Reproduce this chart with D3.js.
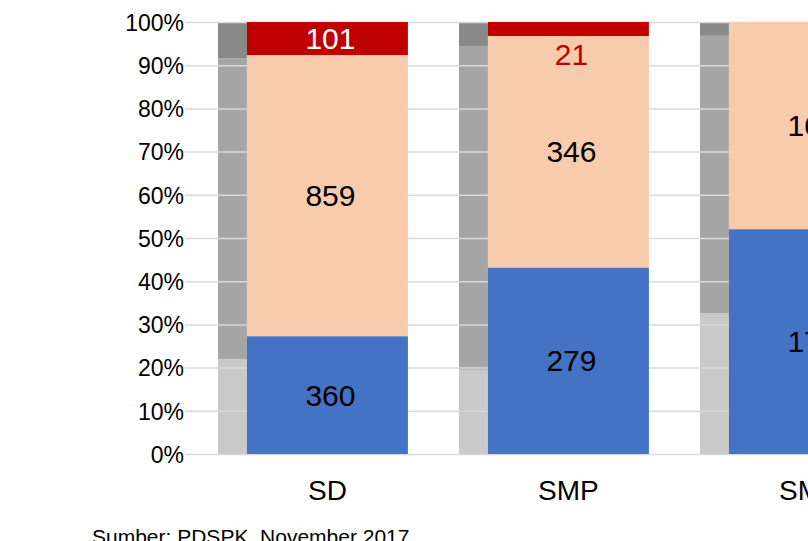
<!DOCTYPE html>
<html>
<head>
<meta charset="utf-8">
<script src="https://cdn.jsdelivr.net/npm/d3@7"></script>
<style>
  html, body { margin: 0; padding: 0; background: #fff; overflow: hidden; }
  svg { display: block; font-family: "Liberation Sans", Arial, sans-serif; }
</style>
</head>
<body>
<svg id="chart" width="808" height="541"></svg>
<script>
// categories (third one is cut off at the right edge)
var categories = ["SD", "SMP", "SMA"];

// counts in the main stacked bar
var blueValues = [360, 279, 178];
var peachValues = [859, 346, 164];
var redValues = [101, 21, 0];

// narrow grey bar, shares in percent
var greyLight = [22.0, 19.5, 32.6];
var greyMid = [69.6, 74.8, 64.2];
var greyDark = [8.4, 5.7, 3.2];

var tickValues = [0, 0.1, 0.2, 0.3, 0.4, 0.5, 0.6, 0.7, 0.8, 0.9, 1];

var sourceText = "Sumber: PDSPK, November 2017";

window.onload = function()
{
	drawChart();
}

function drawChart()
{
	var svg = d3.select("#chart");

	var top = 22, bottom = 454;
	var left = 185;
	var firstBand = 218;

	var x = d3.scaleBand()
		.domain(categories)
		.range([firstBand, firstBand + 241 * categories.length])
		.paddingInner(0)
		.paddingOuter(0);

	var y = d3.scaleLinear()
		.domain([0, 1])
		.range([bottom, top]);

	var greyW = x.bandwidth() * 0.12;
	var mainW = x.bandwidth() * 0.668;

	// grey bars
	var greyRows = categories.map(function(c, i) {
		return { cat: c, light: greyLight[i] / 100, mid: greyMid[i] / 100, dark: greyDark[i] / 100 };
	});
	var greyStack = d3.stack().keys(["light", "mid", "dark"])(greyRows);
	var greyColor = { light: "#c9c9c9", mid: "#a5a5a5", dark: "#898989" };

	svg.append("g")
		.selectAll("g")
		.data(greyStack)
		.join("g")
			.attr("fill", function(d) { return greyColor[d.key]; })
		.selectAll("rect")
		.data(function(d) { return d; })
		.join("rect")
			.attr("x", function(d) { return x(d.data.cat); })
			.attr("width", greyW)
			.attr("y", function(d) { return y(d[1]); })
			.attr("height", function(d) { return y(d[0]) - y(d[1]); });

	// y axis with gridlines
	var yAxis = svg.append("g")
		.attr("transform", `translate(${left}, 0)`)
		.call(d3.axisLeft(y)
			.tickValues(tickValues)
			.tickFormat(d3.format(".0%"))
			.tickSizeInner(-700)
			.tickSizeOuter(0)
			.tickPadding(1));
	yAxis.select(".domain").remove();
	yAxis.selectAll(".tick line")
		.attr("stroke", "#d9d9d9")
		.attr("stroke-width", 1.5);
	yAxis.selectAll(".tick text")
		.attr("font-size", "23px")
		.attr("fill", "#000")
		.attr("x", -1)
		.attr("dy", "0.36em");

	// main stacked bars as shares
	var mainRows = categories.map(function(c, i) {
		var total = blueValues[i] + peachValues[i] + redValues[i];
		return {
			cat: c,
			blue: blueValues[i] / total,
			peach: peachValues[i] / total,
			red: redValues[i] / total,
			counts: { blue: blueValues[i], peach: peachValues[i], red: redValues[i] }
		};
	});
	var mainStack = d3.stack().keys(["blue", "peach", "red"])(mainRows);
	var mainColor = { blue: "#4472c4", peach: "#f8cbad", red: "#c00000" };

	svg.append("g")
		.selectAll("g")
		.data(mainStack)
		.join("g")
			.attr("fill", function(d) { return mainColor[d.key]; })
		.selectAll("rect")
		.data(function(d) { return d.filter(function(p) { return p[1] > p[0]; }); })
		.join("rect")
			.attr("x", function(d) { return x(d.data.cat) + greyW; })
			.attr("width", mainW)
			.attr("y", function(d) { return y(d[1]); })
			.attr("height", function(d) { return y(d[0]) - y(d[1]); });

	// value labels
	var fontSize = 30;
	var half = fontSize * 0.716 / 2;
	mainStack.forEach(function(layer) {
		layer.forEach(function(d) {
			var val = d.data.counts[layer.key];
			if (!val) return;
			var h = y(d[0]) - y(d[1]);
			var cx = x(d.data.cat) + greyW + mainW / 2 + 3;
			var ty, fill = "#000";
			if (layer.key == "red") {
				if (h > fontSize) {
					ty = (y(d[0]) + y(d[1])) / 2 + half;
					fill = "#fff";
				} else {
					ty = y(d[0]) + 7 + half * 2;
					fill = "#c00000";
				}
			} else {
				ty = (y(d[0]) + y(d[1])) / 2 + half;
			}
			svg.append("text")
				.attr("x", cx)
				.attr("y", ty)
				.attr("text-anchor", "middle")
				.attr("font-size", fontSize + "px")
				.attr("fill", fill)
				.text(val);
		});
	});

	// category labels
	svg.append("g")
		.selectAll("text")
		.data(categories)
		.join("text")
			.attr("x", function(d) { return x(d) + greyW + mainW / 2; })
			.attr("y", bottom + 46)
			.attr("text-anchor", "middle")
			.attr("font-size", "28px")
			.attr("fill", "#000")
			.text(function(d) { return d; });

	// source line, cut off at the bottom
	svg.append("text")
		.attr("x", 92)
		.attr("y", 544)
		.attr("font-size", "21px")
		.attr("fill", "#000")
		.text(sourceText);
}
</script>
</body>
</html>
